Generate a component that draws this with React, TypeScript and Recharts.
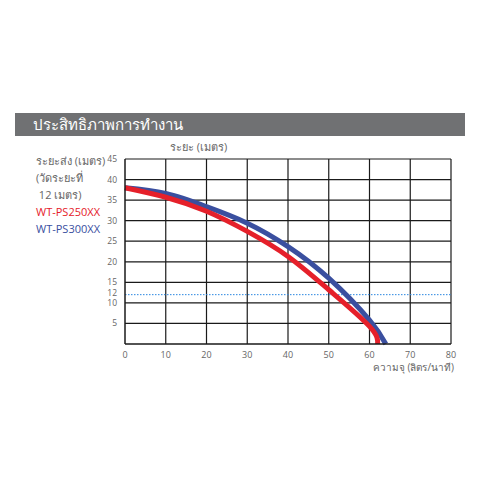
import { LineChart, Line, XAxis, YAxis, CartesianGrid, ReferenceLine } from "recharts";

// flow (L/min) vs head (m)
const flow250 = [0, 10, 20, 30, 40, 50, 60, 62];
const head250 = [38, 35.7, 32.3, 27.4, 21.3, 13.2, 4.3, 0];
const flow300 = [0, 10, 20, 30, 40, 50, 60, 64];
const head300 = [38, 36.6, 33.4, 29.4, 23.7, 16, 5.8, 0];

const xTicks = [0, 10, 20, 30, 40, 50, 60, 70, 80];
const yTicks = [5, 10, 12, 15, 20, 25, 30, 35, 40, 45];
const gridY = [5, 10, 15, 20, 25, 30, 35, 40, 45];
const gridX = [10, 20, 30, 40, 50, 60, 70, 80];

const series250 = flow250.map((q, i) => ({ q, h: head250[i] }));
const series300 = flow300.map((q, i) => ({ q, h: head300[i] }));

const RED = "#e5202a";
const BLUE = "#3a4f9f";
const GREY = "#666";
const FONT = "'Open Sans', 'Noto Sans', sans-serif";

// 12 sits between 15 and 10, nudge it so the three are evenly spaced like the original
const YTick = (props: any) => {
  const { x, y, payload } = props;
  const nudge = payload.value === 12 ? -2 : payload.value === 10 ? 0.5 : payload.value === 15 ? -0.5 : 0;
  return (
    <text
      x={x}
      y={y + nudge}
      dy="0.35em"
      textAnchor="end"
      fontSize={8.5}
      fill={GREY}
      fontFamily={FONT}
    >
      {payload.value}
    </text>
  );
};

export default function App() {
  return (
    <div
      style={{
        position: "relative",
        width: 480,
        height: 480,
        margin: "-8px 0 0 -8px",
        background: "#fff",
        fontFamily: FONT,
        overflow: "hidden",
      }}
    >
      {/* header bar */}
      <div
        style={{
          position: "absolute",
          left: 15,
          top: 113,
          width: 450,
          height: 23,
          background: "#707173",
          color: "#fff",
          fontSize: 15,
          lineHeight: "23px",
          paddingLeft: 18,
          boxSizing: "border-box",
        }}
      >
        ประสิทธิภาพการทำงาน
      </div>

      <div style={{ position: "absolute", left: 170, top: 138, fontSize: 11, color: GREY }}>
        ระยะ (เมตร)
      </div>

      <div style={{ position: "absolute", left: 36, top: 152, fontSize: 11, color: GREY, lineHeight: "17px" }}>
        <div>ระยะส่ง (เมตร)</div>
        <div>(วัดระยะที่</div>
        <div>&nbsp;12 เมตร)</div>
        <div style={{ color: RED }}>WT-PS250XX</div>
        <div style={{ color: BLUE }}>WT-PS300XX</div>
      </div>

      <div style={{ position: "absolute", right: 26, top: 360, fontSize: 10, color: GREY }}>
        ความจุ (ลิตร/นาที)
      </div>

      <div style={{ position: "absolute", left: 0, top: 0 }}>
        <LineChart width={480} height={480} margin={{ top: 159, right: 29, bottom: 116, left: 95 }}>
          <CartesianGrid
            stroke="#1a1a1a"
            strokeWidth={1.2}
            horizontalValues={gridY}
            verticalValues={gridX}
          />
          <XAxis
            type="number"
            dataKey="q"
            domain={[0, 80]}
            ticks={xTicks}
            tickLine={false}
            axisLine={{ stroke: "#1a1a1a", strokeWidth: 1.5 }}
            tick={{ fontSize: 9, fill: GREY, fontFamily: FONT }}
            height={20}
          />
          <YAxis
            type="number"
            dataKey="h"
            domain={[0, 45]}
            ticks={yTicks}
            interval={0}
            tickLine={false}
            axisLine={{ stroke: "#1a1a1a", strokeWidth: 1.5 }}
            tick={<YTick />}
            width={30}
          />
          <ReferenceLine y={12} stroke="#2a86e0" strokeDasharray="1.5 1.5" strokeWidth={1} />
          <Line
            data={series300}
            dataKey="h"
            type="natural"
            stroke={BLUE}
            strokeWidth={5}
            dot={false}
            isAnimationActive={false}
          />
          <Line
            data={series250}
            dataKey="h"
            type="natural"
            stroke={RED}
            strokeWidth={5}
            dot={false}
            isAnimationActive={false}
          />
        </LineChart>
      </div>
    </div>
  );
}
